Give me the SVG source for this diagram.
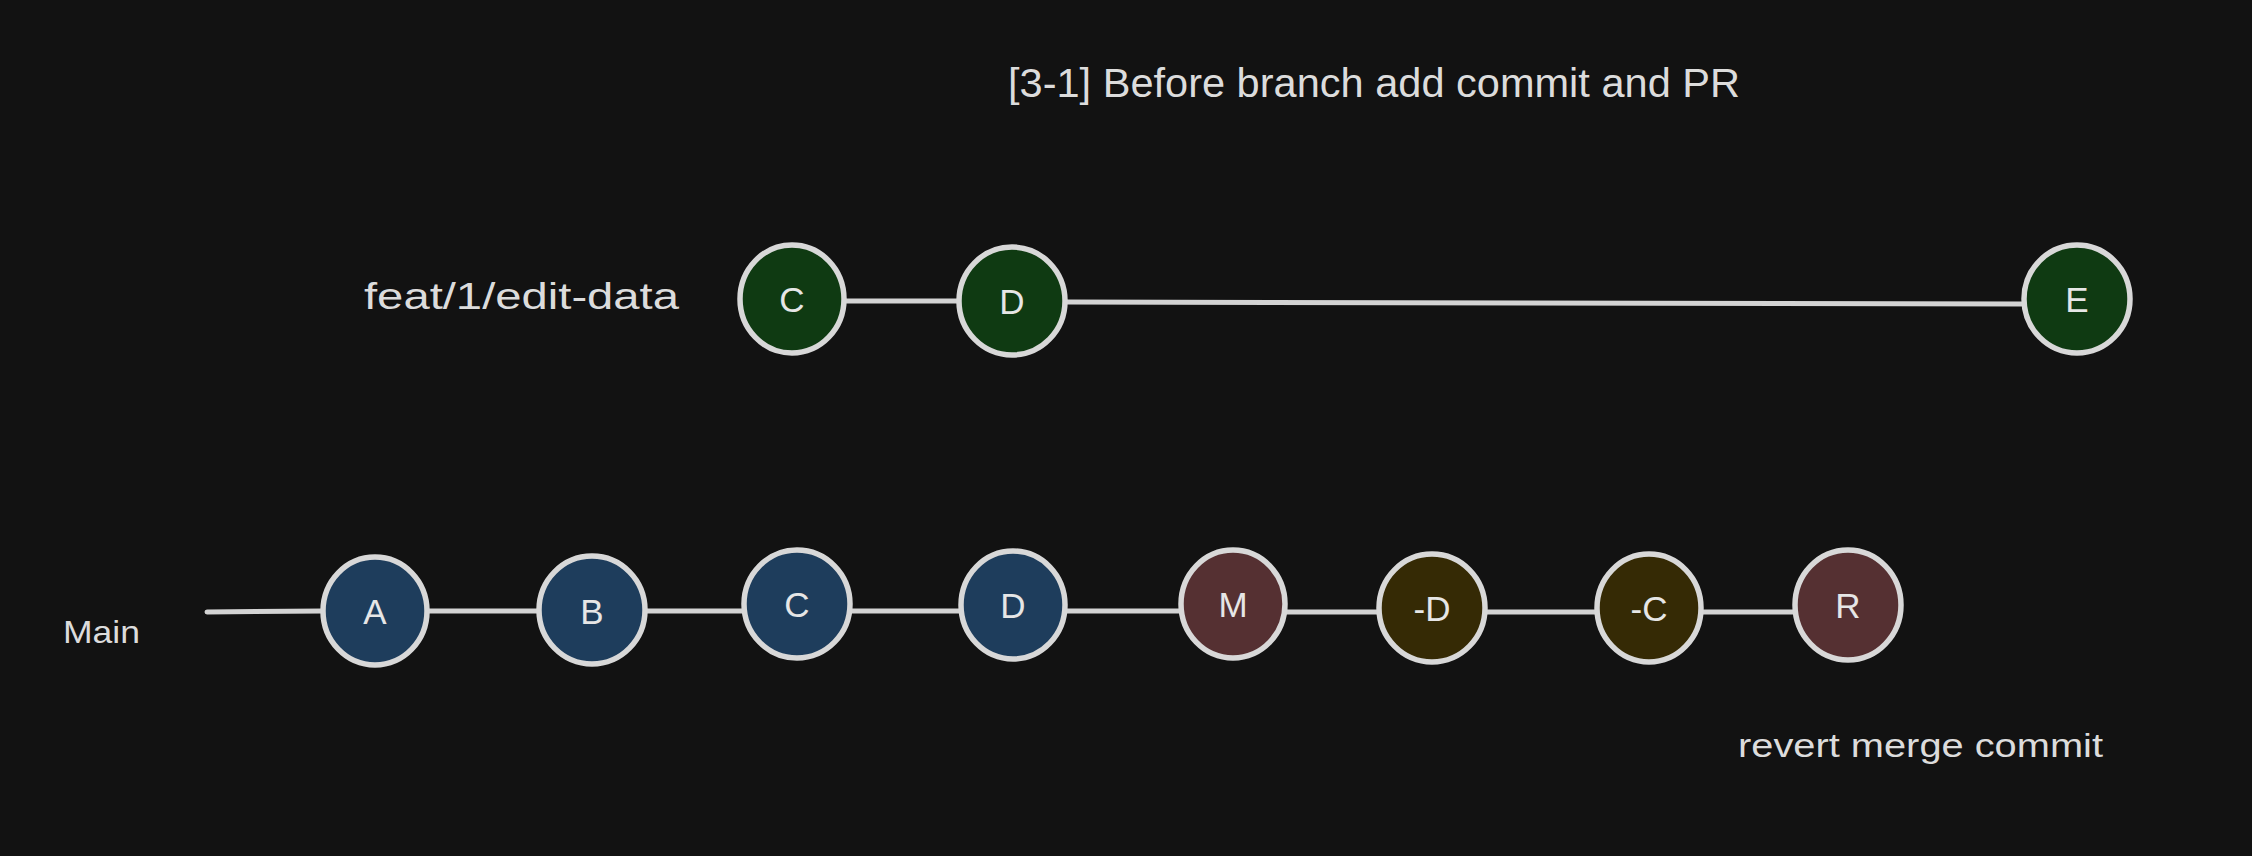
<svg xmlns="http://www.w3.org/2000/svg" width="2252" height="856" viewBox="0 0 2252 856">
<style>
.bg{fill:#121212}
.edge{stroke:#d3d3d3;stroke-width:5;stroke-linecap:round;fill:none}
.node{stroke:#d8d8d8;stroke-width:5.5}
.blue{fill:#1e3d5c}
.green{fill:#0f3a12}
.maroon{fill:#553032}
.olive{fill:#352a05}
.lbl{font-family:"Liberation Sans","DejaVu Sans",sans-serif;fill:#dcdcdc}
.nl{font-family:"Liberation Sans","DejaVu Sans",sans-serif;fill:#e6e6e6;font-size:35px;text-anchor:middle}
</style>
<rect class="bg" x="0" y="0" width="2252" height="856"/>
<text class="lbl" x="1008" y="97" font-size="40" textLength="732" lengthAdjust="spacingAndGlyphs">[3-1] Before branch add commit and PR</text>
<text class="lbl" x="364" y="309" font-size="36" textLength="315" lengthAdjust="spacingAndGlyphs">feat/1/edit-data</text>
<text class="lbl" x="63" y="643" font-size="32" textLength="77" lengthAdjust="spacingAndGlyphs">Main</text>
<text class="lbl" x="1738" y="757" font-size="34" textLength="365" lengthAdjust="spacingAndGlyphs">revert merge commit</text>
<g id="connectors">
<path class="edge" d="M844 301 L958 301"/>
<path class="edge" d="M1067 302 L2023 304"/>
<path class="edge" d="M207 612 L323 611"/>
<path class="edge" d="M427 611 L540 611"/>
<path class="edge" d="M644 611 L745 611"/>
<path class="edge" d="M849 611 L961 611"/>
<path class="edge" d="M1065 611 L1181 611"/>
<path class="edge" d="M1285 612 L1380 612"/>
<path class="edge" d="M1484 612 L1597 612"/>
<path class="edge" d="M1701 612 L1796 612"/>
</g>
<g id="feat-C"><ellipse class="node green" cx="792" cy="299" rx="52" ry="54"/><text class="nl" x="792" y="312">C</text></g>
<g id="feat-D"><ellipse class="node green" cx="1012" cy="301" rx="53" ry="54"/><text class="nl" x="1012" y="314">D</text></g>
<g id="feat-E"><ellipse class="node green" cx="2077" cy="299" rx="53" ry="54"/><text class="nl" x="2077" y="312">E</text></g>
<g id="main-A"><ellipse class="node blue" cx="375" cy="611" rx="52" ry="54"/><text class="nl" x="375" y="624">A</text></g>
<g id="main-B"><ellipse class="node blue" cx="592" cy="610" rx="53" ry="54"/><text class="nl" x="592" y="624">B</text></g>
<g id="main-C"><ellipse class="node blue" cx="797" cy="604" rx="53" ry="54"/><text class="nl" x="797" y="617">C</text></g>
<g id="main-D"><ellipse class="node blue" cx="1013" cy="605" rx="52" ry="54"/><text class="nl" x="1013" y="618">D</text></g>
<g id="main-M"><ellipse class="node maroon" cx="1233" cy="604" rx="52" ry="54"/><text class="nl" x="1233" y="617">M</text></g>
<g id="main-negD"><ellipse class="node olive" cx="1432" cy="608" rx="53" ry="54"/><text class="nl" x="1432" y="621">-D</text></g>
<g id="main-negC"><ellipse class="node olive" cx="1649" cy="608" rx="52" ry="54"/><text class="nl" x="1649" y="621">-C</text></g>
<g id="main-R"><ellipse class="node maroon" cx="1848" cy="605" rx="53" ry="55"/><text class="nl" x="1848" y="618">R</text></g>
</svg>
